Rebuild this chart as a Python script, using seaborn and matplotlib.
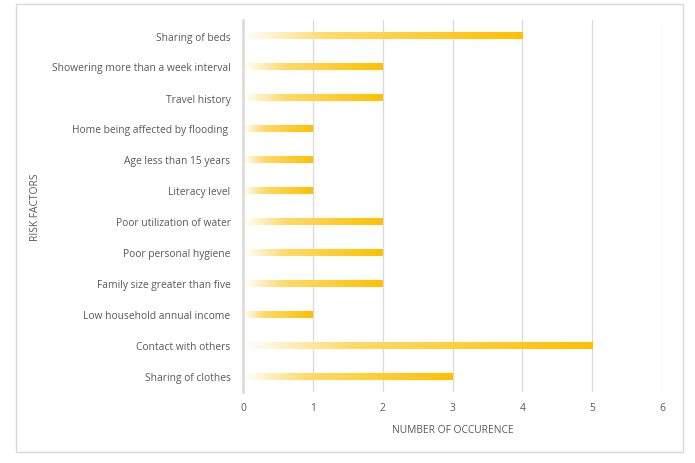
import numpy as np
import pandas as pd
import matplotlib
matplotlib.use("Agg")
import matplotlib.pyplot as plt
from matplotlib.colors import LinearSegmentedColormap
from matplotlib.patches import Rectangle
import seaborn as sns

factors = [
    "Sharing of beds",
    "Showering more than a week interval",
    "Travel history",
    "Home being affected by flooding ",
    "Age less than 15 years",
    "Literacy level",
    "Poor utilization of water",
    "Poor personal hygiene",
    "Family size greater than five",
    "Low household annual income",
    "Contact with others",
    "Sharing of clothes",
]
occurrences = [4, 2, 2, 1, 1, 1, 2, 2, 2, 1, 5, 3]
x_ticks = [0, 1, 2, 3, 4, 5, 6]

sns.set_style("white")
plt.rcParams["font.family"] = ["Open Sans", "DejaVu Sans"]
text_gray = "#595959"
grid_gray = "#D9D9D9"
fs = 7.4

df = pd.DataFrame({"factor": factors, "count": occurrences})

fig = plt.figure(figsize=(6.95, 4.64), dpi=100)
ax = fig.add_axes([243 / 695, 1 - 393 / 464, (662 - 243) / 695, (393 - 21) / 464])

sns.barplot(data=df, y="factor", x="count", orient="h", order=factors,
            width=0.23, color="#FFC000", ax=ax)

# per-bar gradient: white on the left to gold on the right
cmap = LinearSegmentedColormap.from_list(
    "gold", [(0.0, "#FFFFFF"), (0.3, "#FFDA6A"), (1.0, "#FFC000")])
grad = np.linspace(0, 1, 256).reshape(1, -1)
for bar in list(ax.patches):
    x0, y0 = bar.get_x(), bar.get_y()
    w, h = bar.get_width(), bar.get_height()
    bar.set_facecolor("none")
    bar.set_edgecolor("none")
    im = ax.imshow(grad, cmap=cmap, aspect="auto", interpolation="bicubic",
                   extent=(x0, x0 + w, y0 + h, y0), zorder=3)
    im.set_clip_path(bar)

ax.set_xlim(0, 6)
ax.set_ylim(len(factors) - 0.5, -0.5)
ax.set_xticks(x_ticks)
ax.grid(axis="x", color=grid_gray, linewidth=0.9)
ax.set_axisbelow(True)
for side in ["top", "right", "bottom"]:
    ax.spines[side].set_visible(False)
ax.spines["left"].set_color(grid_gray)
ax.spines["left"].set_linewidth(1.8)
ax.spines["left"].set_zorder(4)
ax.tick_params(axis="both", length=0, colors=text_gray, labelsize=fs, pad=7)
ax.tick_params(axis="y", pad=9)
ax.set_xlabel("NUMBER OF OCCURENCE", color=text_gray, fontsize=fs, labelpad=8)
ax.set_ylabel("RISK FACTORS", color=text_gray, fontsize=fs, labelpad=0)
ax.yaxis.set_label_coords((41 - 243) / (662 - 243), 0.5)

fig.patches.append(Rectangle((16 / 695, 1 - 453 / 464), (683 - 16) / 695, (453 - 5) / 464,
                             transform=fig.transFigure, fill=False,
                             edgecolor=grid_gray, linewidth=1.0))

fig.savefig("out.png", dpi=100)
